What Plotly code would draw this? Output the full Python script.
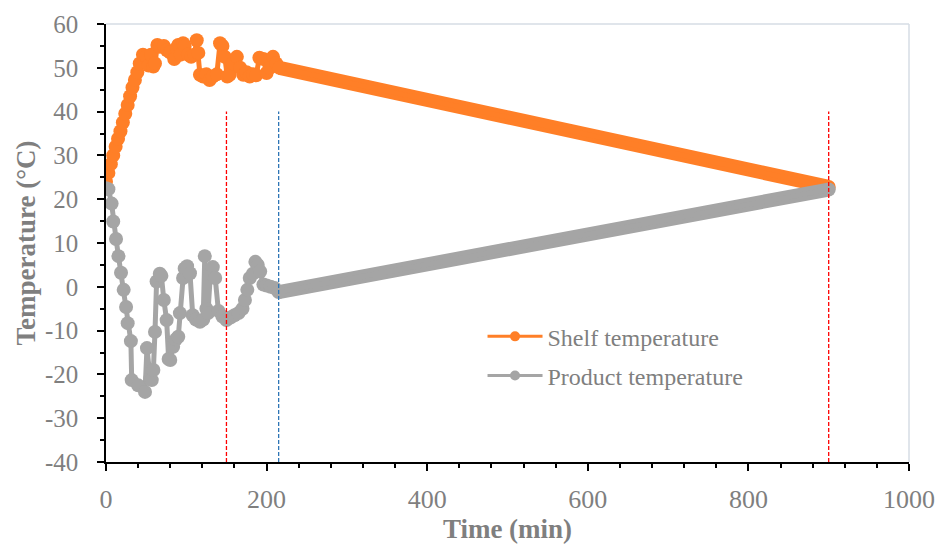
import plotly.graph_objects as go

# Shelf temperature readings (min, °C)
shelf_time = [0, 3, 6, 9, 12, 15, 18, 21, 24, 27, 30, 33, 36, 39, 42, 46, 50, 53, 56, 59,
              61, 64, 67, 72, 76, 80, 85, 88, 90, 93, 96, 98, 102, 106, 110, 113, 115, 117,
              121, 125, 129, 133, 138, 142, 145, 148, 151, 154, 158, 163, 167, 171, 175,
              179, 183, 187, 191, 196, 200, 204, 208, 212, 216, 900]
shelf_temp = [24, 26, 28, 30, 32, 33.8, 35.5, 37.5, 39.5, 41.5, 43.5, 45.5, 47.2, 49, 51,
              53, 52.5, 50.5, 53, 50.3, 51, 55.2, 54.8, 55, 54, 53.5, 52, 54.5, 55.2, 53,
              55.6, 55, 53, 52.5, 53, 56.3, 53.4, 48.4, 48, 48.5, 47.2, 48, 48.5, 55.6, 55,
              52.5, 48, 48.4, 51, 52.5, 50, 48.4, 49, 48, 48.5, 48.3, 52.3, 52, 48.8, 50,
              52.5, 51, 50, 22.8]

# Product temperature readings (min, °C)
product_time = [0, 3, 7, 9, 12.5, 15.5, 18.7, 22, 25, 27, 31, 32, 40, 48.6, 51, 55, 57,
                59, 61, 63, 67, 69, 72, 75.5, 78, 80, 83.6, 87, 90, 92, 96, 98, 101, 104.6,
                108, 112, 117, 121, 123, 125, 127, 130, 133, 136, 140, 145, 150, 155, 160,
                165, 170, 173, 176, 179, 183, 186, 189, 192, 196, 200, 205, 210, 215, 900]
product_temp = [22.5, 22.3, 19, 14.9, 10.9, 7, 3.2, -0.7, -4.6, -8.3, -12.4, -21.3, -22.5,
                -24, -14, -21, -21.3, -19, -10.3, 1.2, 3, 2.5, -3, -7.6, -16.5, -16.7,
                -13.7, -12, -11.4, -6, 2, 4.2, 4.7, 3.1, -6.5, -7.5, -8, -7.5, 7, -5, -6,
                3, 4.5, 2, -5.5, -6.8, -7.6, -7, -6.5, -6, -5, -3, -0.7, 2, 3, 5.7, 5, 3.5,
                0.5, 0.3, 0, -0.3, -1.2, 22.2]

# Axis tick labels
x_ticks = [0, 200, 400, 600, 800, 1000]
x_tick_labels = ["0", "200", "400", "600", "800", "1000"]
y_ticks = [-40, -30, -20, -10, 0, 10, 20, 30, 40, 50, 60]
y_tick_labels = ["-40", "-30", "-20", "-10", "0", "10", "20", "30", "40", "50", "60"]

# Phase boundaries drawn as dashed verticals
phase_time = [150, 215, 900]
phase_color = ["#FF0000", "#2E75B6", "#FF0000"]
phase_low, phase_high = -40, 40

ramp_start = 215  # after this time the readings are logged densely
ORANGE = "#FF7F27"
GREY = "#A5A5A5"
TEXT = "#7F7F7F"
FONT = "Liberation Serif"

fig = go.Figure()


def add_series(t, v, color, name):
    ramp = [i for i, x in enumerate(t) if x >= ramp_start]
    # dense ramp drawn as a band as wide as the markers
    fig.add_trace(go.Scatter(x=[t[i] for i in ramp], y=[v[i] for i in ramp], mode="lines",
                             line=dict(color=color, width=14), showlegend=False,
                             hoverinfo="skip"))
    fig.add_trace(go.Scatter(x=t, y=v, mode="lines+markers",
                             line=dict(color=color, width=5),
                             marker=dict(color=color, size=14), showlegend=False, name=name))
    # legend entry
    fig.add_trace(go.Scatter(x=[None], y=[None], mode="lines+markers", name=name,
                             legendgroup=name,
                             line=dict(color=color, width=3),
                             marker=dict(color=color, size=10)))


add_series(shelf_time, shelf_temp, ORANGE, "Shelf temperature")
add_series(product_time, product_temp, GREY, "Product temperature")

for t, c in zip(phase_time, phase_color):
    fig.add_trace(go.Scatter(x=[t, t], y=[phase_low, phase_high], mode="lines",
                             line=dict(color=c, width=1.3, dash="4px,2px"),
                             showlegend=False, hoverinfo="skip"))

axis_common = dict(showgrid=False, zeroline=False, showline=True, linecolor="black",
                   linewidth=1.5, ticks="outside", tickcolor="black", ticklen=7,
                   tickwidth=1.5, automargin=False)

fig.update_xaxes(range=[0, 1000], tickvals=x_ticks, ticktext=x_tick_labels,
                 minor=dict(dtick=40, tick0=0, ticks="outside", ticklen=4,
                            tickcolor="black", tickwidth=1.5),
                 ticklabelstandoff=6,
                 tickfont=dict(family=FONT, size=26, color=TEXT),
                 title=dict(text="<b>Time (min)</b>", font=dict(family=FONT, size=27,
                                                              color=TEXT), standoff=9),
                 **axis_common)
fig.update_yaxes(range=[-40, 60], tickvals=y_ticks, ticktext=y_tick_labels,
                 minor=dict(dtick=5, tick0=0, ticks="outside", ticklen=4,
                            tickcolor="black", tickwidth=1.5),
                 ticklabelstandoff=14,
                 tickfont=dict(family=FONT, size=25, color=TEXT),
                 title=dict(text="<b>Temperature (°C)</b>", font=dict(family=FONT, size=27,
                                                                    color=TEXT), standoff=1),
                 **axis_common)

# light frame on the top and right of the plot area
fig.add_shape(type="line", xref="paper", yref="paper", x0=0, x1=1, y0=1, y1=1,
              line=dict(color="#D6DCE4", width=1.5), layer="below")
fig.add_shape(type="line", xref="paper", yref="paper", x0=1, x1=1, y0=0, y1=1,
              line=dict(color="#D6DCE4", width=1.5), layer="below")

fig.update_layout(
    width=942, height=544,
    margin=dict(l=106, r=33, t=24, b=82),
    paper_bgcolor="white", plot_bgcolor="white",
    font=dict(family=FONT, color=TEXT),
    legend=dict(x=0.4689, y=0.3373, xanchor="left", yanchor="top", itemwidth=55,
                font=dict(family=FONT, size=24, color=TEXT),
                tracegroupgap=5, bgcolor="rgba(0,0,0,0)"),
)

fig.write_html("out.html")
